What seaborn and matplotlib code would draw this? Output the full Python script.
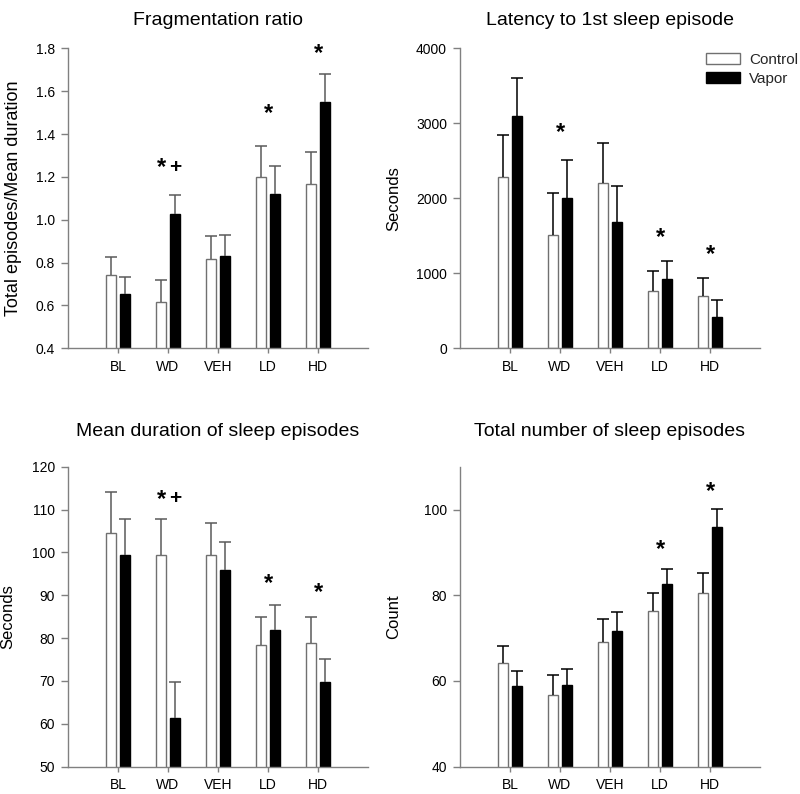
import numpy as np
import pandas as pd
import matplotlib
matplotlib.use('Agg')
import matplotlib.pyplot as plt
import seaborn as sns
from matplotlib.patches import Patch

# ---------------- data ----------------
conditions = ['BL', 'WD', 'VEH', 'LD', 'HD']
groups = ['Control', 'Vapor']

frag_control = [0.741, 0.615, 0.818, 1.198, 1.165]
frag_control_sem = [0.085, 0.105, 0.105, 0.146, 0.153]
frag_vapor = [0.655, 1.025, 0.832, 1.122, 1.548]
frag_vapor_sem = [0.076, 0.091, 0.097, 0.130, 0.134]

lat_control = [2284, 1507, 2200, 764, 693]
lat_control_sem = [565, 560, 533, 272, 245]
lat_vapor = [3093, 2009, 1689, 924, 422]
lat_vapor_sem = [507, 502, 475, 245, 218]

dur_control = [104.6, 99.5, 99.4, 78.3, 78.8]
dur_control_sem = [9.5, 8.4, 7.4, 6.6, 6.1]
dur_vapor = [99.5, 61.3, 95.8, 82.0, 69.7]
dur_vapor_sem = [8.4, 8.4, 6.6, 5.8, 5.4]

cnt_control = [64.1, 56.8, 69.2, 76.4, 80.6]
cnt_control_sem = [4.1, 4.5, 5.2, 4.1, 4.6]
cnt_vapor = [58.8, 59.0, 71.7, 82.6, 96.0]
cnt_vapor_sem = [3.5, 3.9, 4.5, 3.5, 4.1]

# significance marks: (condition, label, y value of the mark)
frag_marks = [('WD', '*+', 1.255), ('LD', '*', 1.507), ('HD', '*', 1.787)]
lat_marks = [('WD', '*', 2920), ('LD', '*', 1511), ('HD', '*', 1288)]
dur_marks = [('WD', '*+', 113.0), ('LD', '*', 93.3), ('HD', '*', 91.2)]
cnt_marks = [('LD', '*', 91.3), ('HD', '*', 104.9)]

titles = ['Fragmentation ratio', 'Latency to 1st sleep episode',
          'Mean duration of sleep episodes', 'Total number of sleep episodes']
ylabels = ['Total episodes/Mean duration', 'Seconds', 'Seconds', 'Count']
ylims = [(0.4, 1.8), (0, 4000), (50, 120), (40, 110)]
yticks = [[0.4, 0.6, 0.8, 1.0, 1.2, 1.4, 1.6, 1.8],
          [0, 1000, 2000, 3000, 4000],
          [50, 60, 70, 80, 90, 100, 110, 120],
          [40, 60, 80, 100]]
ytick_fmt = ['{:.1f}', '{:d}', '{:d}', '{:d}']

panels = [
    (frag_control, frag_control_sem, frag_vapor, frag_vapor_sem, frag_marks),
    (lat_control, lat_control_sem, lat_vapor, lat_vapor_sem, lat_marks),
    (dur_control, dur_control_sem, dur_vapor, dur_vapor_sem, dur_marks),
    (cnt_control, cnt_control_sem, cnt_vapor, cnt_vapor_sem, cnt_marks),
]

# ---------------- style ----------------
sns.set_theme(style='white')
plt.rcParams['font.family'] = ['Liberation Sans', 'DejaVu Sans']

GRAY = '#808080'
err_colors = ['#5a5a5a', '#000000', '#5a5a5a', '#000000']

fig = plt.figure(figsize=(8.0, 7.94), dpi=100)
positions = [
    [0.085, 0.5613, 0.375, 0.3778],
    [0.575, 0.5613, 0.375, 0.3778],
    [0.085, 0.0344, 0.375, 0.3778],
    [0.575, 0.0344, 0.375, 0.3778],
]
title_pads = [17, 17, 22, 22]
ylabel_sizes = [13, 12, 12, 12]
ylabel_x = [-0.152, -0.195, -0.175, -0.195]

for i, (c, cs, v, vs, marks) in enumerate(panels):
    ax = fig.add_axes(positions[i])
    df = pd.DataFrame({
        'condition': conditions * 2,
        'group': ['Control'] * len(conditions) + ['Vapor'] * len(conditions),
        'value': list(c) + list(v),
    })
    sem = {'Control': cs, 'Vapor': vs}
    sns.barplot(data=df, x='condition', y='value', hue='group',
                order=conditions, hue_order=groups,
                palette={'Control': 'white', 'Vapor': 'black'},
                width=0.58, gap=0.33, errorbar=None, legend=False,
                linewidth=1.0, ax=ax)
    for cont, g in zip(ax.containers, groups):
        xs, hs = [], []
        for p in cont:
            p.set_edgecolor('#707070' if g == 'Control' else 'black')
            p.set_linewidth(1.0)
            xs.append(p.get_x() + p.get_width() / 2)
            hs.append(p.get_height())
        xs = np.array(xs)
        hs = np.array(hs)
        up = np.array(sem[g])
        eb = ax.errorbar(xs, hs, yerr=[np.zeros_like(up), up], fmt='none',
                         ecolor=err_colors[i], elinewidth=1.1, capsize=4.0,
                         capthick=1.1, zorder=1)
        eb[1][0].set_visible(False)

    # significance marks
    for cond, lab, yv in marks:
        xi = conditions.index(cond)
        if lab == '*+':
            items = [('*', xi - 0.13), ('+', xi + 0.15)]
        else:
            items = [('*', xi)]
        for sym, xx in items:
            if sym == '*':
                fs, off = 17, -6.7
            else:
                fs, off = 15, -0.37 * 15
            ax.annotate(sym, xy=(xx, yv), xytext=(0, off),
                        textcoords='offset points', ha='center',
                        va='baseline', fontsize=fs, color='black',
                        fontweight='bold')

    ax.set_xlim(-1, 5)
    ax.set_ylim(*ylims[i])
    ax.set_yticks(yticks[i])
    ax.set_yticklabels([ytick_fmt[i].format(t) for t in yticks[i]])
    ax.set_xlabel('')
    ax.set_ylabel(ylabels[i], fontsize=ylabel_sizes[i], color='black')
    ax.yaxis.set_label_coords(ylabel_x[i], 0.5)
    ax.set_title(titles[i], fontsize=14, color='black', pad=title_pads[i])
    for s in ['top', 'right']:
        ax.spines[s].set_visible(False)
    for s in ['left', 'bottom']:
        ax.spines[s].set_color(GRAY)
        ax.spines[s].set_linewidth(1.0)
    ax.tick_params(axis='y', direction='out', length=4.8, width=1.0,
                   color=GRAY, labelsize=10, labelcolor='black', pad=4.5, left=True)
    ax.tick_params(axis='x', direction='out', length=3.6, width=1.0,
                   color=GRAY, labelsize=10, labelcolor='black', pad=4.5, bottom=True)
    ax.grid(False)

    if i == 1:
        handles = [Patch(facecolor='white', edgecolor='#707070', linewidth=1.0),
                   Patch(facecolor='black', edgecolor='black', linewidth=1.0)]
        ax.legend(handles, groups, loc='upper left',
                  bbox_to_anchor=(706 / 800, 1 - 53 / 794),
                  bbox_transform=fig.transFigure, frameon=False,
                  fontsize=11, borderpad=0, borderaxespad=0,
                  handlelength=2.25, handleheight=0.7, handletextpad=0.55,
                  labelspacing=0.3)

fig.savefig('out.png', dpi=100, facecolor='white')
